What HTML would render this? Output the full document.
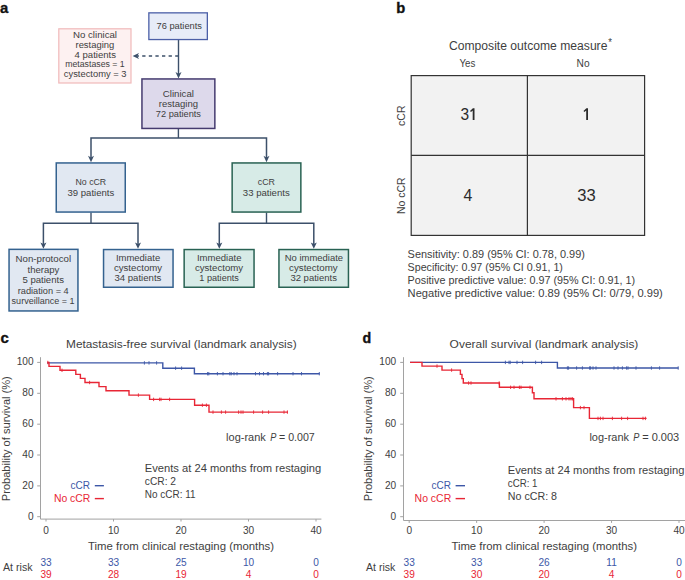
<!DOCTYPE html>
<html><head><meta charset="utf-8"><style>
html,body{margin:0;padding:0;background:#fff;overflow:hidden;width:685px;height:580px;}
svg{display:block;font-family:"Liberation Sans", sans-serif;}
</style></head><body>
<svg width="685" height="580" viewBox="0 0 685 580">
<rect width="685" height="580" fill="#fff"/>
<text x="-0.10" y="12.90" font-size="15" fill="#111" font-weight="bold" textLength="8.27" lengthAdjust="spacingAndGlyphs" stroke="#111" stroke-width="0.35">a</text>
<path d="M178.50,40.00 L178.50,74.00" fill="none" stroke="#3c506a" stroke-width="1.4" />
<path d="M178.50,78.40 L175.50,72.00 L178.50,73.70 L181.50,72.00 Z" fill="#3c506a"/>
<path d="M178.50,56.00 L137.00,56.00" fill="none" stroke="#3c506a" stroke-width="1.4" stroke-dasharray="3.3 3.3"/>
<path d="M132.60,56.00 L139.00,53.00 L137.30,56.00 L139.00,59.00 Z" fill="#3c506a"/>
<path d="M178.40,129.00 L178.40,138.00" fill="none" stroke="#3c506a" stroke-width="1.4" />
<path d="M91.00,159.00 L91.00,138.00 L266.50,138.00 L266.50,159.00" fill="none" stroke="#3c506a" stroke-width="1.5" />
<path d="M91.00,162.20 L88.00,155.80 L91.00,157.50 L94.00,155.80 Z" fill="#3c506a"/>
<path d="M266.50,162.20 L263.50,155.80 L266.50,157.50 L269.50,155.80 Z" fill="#3c506a"/>
<path d="M91.00,212.60 L91.00,223.20" fill="none" stroke="#3c506a" stroke-width="1.4" />
<path d="M43.40,245.00 L43.40,223.20 L138.00,223.20 L138.00,245.00" fill="none" stroke="#3c506a" stroke-width="1.5" />
<path d="M43.40,248.80 L40.40,242.40 L43.40,244.10 L46.40,242.40 Z" fill="#3c506a"/>
<path d="M138.00,248.80 L135.00,242.40 L138.00,244.10 L141.00,242.40 Z" fill="#3c506a"/>
<path d="M266.50,212.60 L266.50,223.20" fill="none" stroke="#3c506a" stroke-width="1.4" />
<path d="M219.30,245.00 L219.30,223.20 L313.80,223.20 L313.80,245.00" fill="none" stroke="#3c506a" stroke-width="1.5" />
<path d="M219.30,248.80 L216.30,242.40 L219.30,244.10 L222.30,242.40 Z" fill="#3c506a"/>
<path d="M313.80,248.80 L310.80,242.40 L313.80,244.10 L316.80,242.40 Z" fill="#3c506a"/>
<rect x="148.85" y="12.85" width="58.50" height="26.70" fill="#e7ecf8" stroke="#4b5fa7" stroke-width="1.3"/>
<text x="156.50" y="29.20" font-size="9.6" fill="#3e3e3e" textLength="45.48" lengthAdjust="spacingAndGlyphs" >76 patients</text>
<rect x="58.80" y="28.80" width="72.20" height="54.20" fill="#fdf1f1" stroke="#f0b9ba" stroke-width="1.2"/>
<text x="73.00" y="38.30" font-size="9.2" fill="#3e3e3e" textLength="44.02" lengthAdjust="spacingAndGlyphs" >No clinical</text>
<text x="75.50" y="47.90" font-size="9.2" fill="#3e3e3e" textLength="38.69" lengthAdjust="spacingAndGlyphs" >restaging</text>
<text x="74.50" y="57.60" font-size="9.2" fill="#3e3e3e" textLength="41.51" lengthAdjust="spacingAndGlyphs" >4 patients</text>
<text x="65.20" y="67.40" font-size="9.2" fill="#3e3e3e" textLength="59.49" lengthAdjust="spacingAndGlyphs" >metastases = 1</text>
<text x="63.80" y="77.20" font-size="9.2" fill="#3e3e3e" textLength="62.72" lengthAdjust="spacingAndGlyphs" >cystectomy = 3</text>
<rect x="141.95" y="78.95" width="72.90" height="49.50" fill="#ddd9eb" stroke="#453b6f" stroke-width="1.5"/>
<text x="162.80" y="96.50" font-size="9.5" fill="#3e3e3e" textLength="31.18" lengthAdjust="spacingAndGlyphs" >Clinical</text>
<text x="158.80" y="106.60" font-size="9.5" fill="#3e3e3e" textLength="39.19" lengthAdjust="spacingAndGlyphs" >restaging</text>
<text x="155.80" y="116.80" font-size="9.5" fill="#3e3e3e" textLength="45.18" lengthAdjust="spacingAndGlyphs" >72 patients</text>
<rect x="56.25" y="162.95" width="69.00" height="49.10" fill="#e1e8f2" stroke="#34628f" stroke-width="1.5"/>
<text x="75.50" y="185.20" font-size="9.3" fill="#3e3e3e" textLength="30.70" lengthAdjust="spacingAndGlyphs" >No cCR</text>
<text x="67.50" y="195.90" font-size="9.3" fill="#3e3e3e" textLength="46.78" lengthAdjust="spacingAndGlyphs" >39 patients</text>
<rect x="232.15" y="162.95" width="68.70" height="49.10" fill="#d7ebe7" stroke="#286253" stroke-width="1.5"/>
<text x="257.80" y="185.20" font-size="9.3" fill="#3e3e3e" textLength="17.19" lengthAdjust="spacingAndGlyphs" >cCR</text>
<text x="242.80" y="195.90" font-size="9.3" fill="#3e3e3e" textLength="46.98" lengthAdjust="spacingAndGlyphs" >33 patients</text>
<rect x="9.05" y="249.35" width="68.90" height="61.60" fill="#e1e8f2" stroke="#34628f" stroke-width="1.5"/>
<text x="15.60" y="262.40" font-size="9.2" fill="#3e3e3e" textLength="55.50" lengthAdjust="spacingAndGlyphs" >Non-protocol</text>
<text x="27.50" y="272.80" font-size="9.2" fill="#3e3e3e" textLength="31.91" lengthAdjust="spacingAndGlyphs" >therapy</text>
<text x="22.40" y="283.20" font-size="9.2" fill="#3e3e3e" textLength="41.61" lengthAdjust="spacingAndGlyphs" >5 patients</text>
<text x="17.70" y="293.60" font-size="9.2" fill="#3e3e3e" textLength="51.02" lengthAdjust="spacingAndGlyphs" >radiation = 4</text>
<text x="11.60" y="304.00" font-size="9.2" fill="#3e3e3e" textLength="63.01" lengthAdjust="spacingAndGlyphs" >surveillance = 1</text>
<rect x="103.55" y="249.55" width="69.50" height="37.70" fill="#e1e8f2" stroke="#34628f" stroke-width="1.5"/>
<text x="115.90" y="260.80" font-size="9.2" fill="#3e3e3e" textLength="44.29" lengthAdjust="spacingAndGlyphs" >Immediate</text>
<text x="113.90" y="271.00" font-size="9.2" fill="#3e3e3e" textLength="48.21" lengthAdjust="spacingAndGlyphs" >cystectomy</text>
<text x="114.40" y="281.30" font-size="9.2" fill="#3e3e3e" textLength="46.98" lengthAdjust="spacingAndGlyphs" >34 patients</text>
<rect x="184.15" y="249.55" width="69.90" height="37.70" fill="#d7ebe7" stroke="#286253" stroke-width="1.5"/>
<text x="196.90" y="260.80" font-size="9.2" fill="#3e3e3e" textLength="44.59" lengthAdjust="spacingAndGlyphs" >Immediate</text>
<text x="194.90" y="271.00" font-size="9.2" fill="#3e3e3e" textLength="48.21" lengthAdjust="spacingAndGlyphs" >cystectomy</text>
<text x="199.30" y="281.30" font-size="9.2" fill="#3e3e3e" textLength="39.61" lengthAdjust="spacingAndGlyphs" >1 patients</text>
<rect x="278.95" y="249.55" width="69.50" height="37.70" fill="#d7ebe7" stroke="#286253" stroke-width="1.5"/>
<text x="284.70" y="260.80" font-size="9.2" fill="#3e3e3e" textLength="58.39" lengthAdjust="spacingAndGlyphs" >No immediate</text>
<text x="289.10" y="271.00" font-size="9.2" fill="#3e3e3e" textLength="48.51" lengthAdjust="spacingAndGlyphs" >cystectomy</text>
<text x="290.40" y="281.30" font-size="9.2" fill="#3e3e3e" textLength="46.58" lengthAdjust="spacingAndGlyphs" >32 patients</text>
<text x="396.20" y="12.80" font-size="15" fill="#111" font-weight="bold" textLength="9.01" lengthAdjust="spacingAndGlyphs" stroke="#111" stroke-width="0.35">b</text>
<text x="449.00" y="49.90" font-size="12" fill="#3e3e3e" textLength="158.42" lengthAdjust="spacingAndGlyphs" >Composite outcome measure</text>
<text x="608.20" y="46.00" font-size="10" fill="#3e3e3e" textLength="3.69" lengthAdjust="spacingAndGlyphs" >*</text>
<text x="459.40" y="67.40" font-size="10.8" fill="#3e3e3e" textLength="15.91" lengthAdjust="spacingAndGlyphs" >Yes</text>
<text x="576.60" y="67.40" font-size="10.8" fill="#3e3e3e" textLength="12.98" lengthAdjust="spacingAndGlyphs" >No</text>
<rect x="411.2" y="75.6" width="233.4" height="159.8" fill="#f2f2f2" stroke="#333" stroke-width="1.2"/>
<path d="M527.40,75.60 L527.40,235.40" fill="none" stroke="#333" stroke-width="1.2" />
<path d="M411.20,155.40 L644.60,155.40" fill="none" stroke="#333" stroke-width="1.2" />
<text x="460.50" y="119.70" font-size="17.3" fill="#2b2b2b" textLength="8.62" lengthAdjust="spacingAndGlyphs" >3</text>
<path d="M588.00,108.20 L588.00,119.90 L586.20,119.90 L586.20,110.50 L584.50,112.10 L583.50,110.90 L586.40,108.20 Z" fill="#2b2b2b"/>
<path d="M474.50,108.20 L474.50,119.90 L472.70,119.90 L472.70,110.50 L471.00,112.10 L470.00,110.90 L472.90,108.20 Z" fill="#2b2b2b"/>
<text x="463.60" y="200.90" font-size="17.3" fill="#2b2b2b" textLength="8.82" lengthAdjust="spacingAndGlyphs" >4</text>
<text x="577.20" y="200.80" font-size="17.3" fill="#2b2b2b" textLength="18.44" lengthAdjust="spacingAndGlyphs" >33</text>
<g transform="translate(405.2,115.7) rotate(-90)">
<text x="-10.20" y="0.00" font-size="10.5" fill="#3e3e3e" textLength="20.39" lengthAdjust="spacingAndGlyphs" >cCR</text>
</g>
<g transform="translate(405.2,195.7) rotate(-90)">
<text x="-18.30" y="0.00" font-size="10.5" fill="#3e3e3e" textLength="36.61" lengthAdjust="spacingAndGlyphs" >No cCR</text>
</g>
<text x="407.60" y="258.20" font-size="10.6" fill="#3e3e3e" textLength="177.31" lengthAdjust="spacingAndGlyphs" >Sensitivity: 0.89 (95% CI: 0.78, 0.99)</text>
<text x="407.60" y="271.20" font-size="10.6" fill="#3e3e3e" textLength="155.28" lengthAdjust="spacingAndGlyphs" >Specificity: 0.97 (95% CI 0.91, 1)</text>
<text x="407.60" y="284.10" font-size="10.6" fill="#3e3e3e" textLength="227.42" lengthAdjust="spacingAndGlyphs" >Positive predictive value: 0.97 (95% CI: 0.91, 1)</text>
<text x="407.60" y="297.00" font-size="10.6" fill="#3e3e3e" textLength="255.22" lengthAdjust="spacingAndGlyphs" >Negative predictive value: 0.89 (95% CI: 0/79, 0.99)</text>
<text x="0.60" y="343.10" font-size="15" fill="#111" font-weight="bold" textLength="8.32" lengthAdjust="spacingAndGlyphs" stroke="#111" stroke-width="0.35">c</text>
<text x="66.00" y="348.00" font-size="11.6" fill="#3e3e3e" textLength="230.61" lengthAdjust="spacingAndGlyphs" >Metastasis-free survival (landmark analysis)</text>
<path d="M40.50,357.20 L40.50,519.10 L321.40,519.10" fill="none" stroke="#a2a2a2" stroke-width="1.0" />
<path d="M37.20,362.40 H40.50 M37.20,393.30 H40.50 M37.20,424.20 H40.50 M37.20,455.00 H40.50 M37.20,485.90 H40.50 M37.20,516.70 H40.50 M46.00,519.10 V521.50 M113.50,519.10 V521.50 M181.00,519.10 V521.50 M248.50,519.10 V521.50 M316.00,519.10 V521.50 " stroke="#a2a2a2" stroke-width="1.0" fill="none"/>
<text x="33.60" y="365.20" font-size="10.1" fill="#3e3e3e" text-anchor="end">100</text>
<text x="33.60" y="396.10" font-size="10.1" fill="#3e3e3e" text-anchor="end">80</text>
<text x="33.60" y="427.00" font-size="10.1" fill="#3e3e3e" text-anchor="end">60</text>
<text x="33.60" y="457.80" font-size="10.1" fill="#3e3e3e" text-anchor="end">40</text>
<text x="33.60" y="488.70" font-size="10.1" fill="#3e3e3e" text-anchor="end">20</text>
<text x="33.60" y="519.50" font-size="10.1" fill="#3e3e3e" text-anchor="end">0</text>
<text x="46.00" y="533.6" font-size="10.1" fill="#3e3e3e" text-anchor="middle">0</text>
<text x="113.50" y="533.6" font-size="10.1" fill="#3e3e3e" text-anchor="middle">10</text>
<text x="181.00" y="533.6" font-size="10.1" fill="#3e3e3e" text-anchor="middle">20</text>
<text x="248.50" y="533.6" font-size="10.1" fill="#3e3e3e" text-anchor="middle">30</text>
<text x="316.00" y="533.6" font-size="10.1" fill="#3e3e3e" text-anchor="middle">40</text>
<g transform="translate(9.8,438.7) rotate(-90)">
<text x="-62.50" y="0.00" font-size="10.6" fill="#3e3e3e" textLength="125.02" lengthAdjust="spacingAndGlyphs" >Probability of survival (%)</text>
</g>
<path d="M47.00,362.90 L162.80,362.90 L162.80,368.20 L194.40,368.20 L194.40,373.70 L319.60,373.70" fill="none" stroke="#3d57a7" stroke-width="1.4" stroke-linejoin="miter"/>
<path d="M144.40,361.20 V364.60 M149.00,361.20 V364.60 M156.60,361.20 V364.60 M175.60,366.50 V369.90 M181.60,366.50 V369.90 M207.60,372.00 V375.40 M208.80,372.00 V375.40 M217.40,372.00 V375.40 M223.00,372.00 V375.40 M229.80,372.00 V375.40 M231.20,372.00 V375.40 M234.00,372.00 V375.40 M237.00,372.00 V375.40 M255.50,372.00 V375.40 M259.50,372.00 V375.40 M263.50,372.00 V375.40 M267.40,372.00 V375.40 M268.60,372.00 V375.40 M277.60,372.00 V375.40 M293.00,372.00 V375.40 M301.50,372.00 V375.40 M319.30,372.00 V375.40 " stroke="#3d57a7" stroke-width="0.9" fill="none"/>
<path d="M47.60,362.50 L49.00,362.50 L49.00,366.40 L60.00,366.40 L60.00,370.30 L75.80,370.30 L75.80,374.40 L80.40,374.40 L80.40,378.40 L85.00,378.40 L85.00,382.50 L99.00,382.50 L99.00,386.60 L106.00,386.60 L106.00,390.80 L129.00,390.80 L129.00,395.10 L149.60,395.10 L149.60,399.40 L194.60,399.40 L194.60,405.20 L209.00,405.20 L209.00,412.10 L288.00,412.10" fill="none" stroke="#e82635" stroke-width="1.4" stroke-linejoin="miter"/>
<path d="M47.80,360.80 V364.20 M62.00,368.60 V372.00 M89.60,380.80 V384.20 M138.40,393.40 V396.80 M153.60,397.70 V401.10 M159.60,397.70 V401.10 M161.00,397.70 V401.10 M169.60,397.70 V401.10 M202.40,403.50 V406.90 M206.40,403.50 V406.90 M213.00,410.40 V413.80 M221.40,410.40 V413.80 M225.60,410.40 V413.80 M238.60,410.40 V413.80 M241.00,410.40 V413.80 M243.00,410.40 V413.80 M253.60,410.40 V413.80 M262.60,410.40 V413.80 M268.60,410.40 V413.80 M284.00,410.40 V413.80 M287.40,410.40 V413.80 " stroke="#e82635" stroke-width="0.9" fill="none"/>
<text x="226.10" y="441.30" font-size="10.6" fill="#3e3e3e" textLength="39.62" lengthAdjust="spacingAndGlyphs" >log-rank</text>
<text x="270.20" y="441.30" font-size="10.6" fill="#3e3e3e" font-style="italic" textLength="6.12" lengthAdjust="spacingAndGlyphs" >P</text>
<text x="279.00" y="441.30" font-size="10.6" fill="#3e3e3e" textLength="35.69" lengthAdjust="spacingAndGlyphs" >= 0.007</text>
<text x="144.80" y="471.50" font-size="10.6" fill="#3e3e3e" textLength="176.41" lengthAdjust="spacingAndGlyphs" >Events at 24 months from restaging</text>
<text x="144.80" y="484.70" font-size="10.6" fill="#3e3e3e" textLength="31.21" lengthAdjust="spacingAndGlyphs" >cCR: 2</text>
<text x="144.80" y="497.50" font-size="10.6" fill="#3e3e3e" textLength="50.69" lengthAdjust="spacingAndGlyphs" >No cCR: 11</text>
<text x="70.60" y="489.00" font-size="10.2" fill="#3d57a7" textLength="19.49" lengthAdjust="spacingAndGlyphs" >cCR</text>
<text x="53.90" y="501.50" font-size="10.2" fill="#e82635" textLength="36.41" lengthAdjust="spacingAndGlyphs" >No cCR</text>
<path d="M94.80,485.70 L103.90,485.70" fill="none" stroke="#3d57a7" stroke-width="1.4" />
<path d="M94.80,498.60 L103.90,498.60" fill="none" stroke="#e82635" stroke-width="1.4" />
<text x="88.00" y="550.00" font-size="10.6" fill="#3e3e3e" textLength="186.02" lengthAdjust="spacingAndGlyphs" >Time from clinical restaging (months)</text>
<text x="3.00" y="571.00" font-size="10.6" fill="#3e3e3e" textLength="29.52" lengthAdjust="spacingAndGlyphs" >At risk</text>
<text x="46.00" y="565.8" font-size="10.1" fill="#3d57a7" text-anchor="middle">33</text>
<text x="113.50" y="565.8" font-size="10.1" fill="#3d57a7" text-anchor="middle">33</text>
<text x="181.00" y="565.8" font-size="10.1" fill="#3d57a7" text-anchor="middle">25</text>
<text x="248.50" y="565.8" font-size="10.1" fill="#3d57a7" text-anchor="middle">10</text>
<text x="316.00" y="565.8" font-size="10.1" fill="#3d57a7" text-anchor="middle">0</text>
<text x="46.00" y="577.8" font-size="10.1" fill="#e82635" text-anchor="middle">39</text>
<text x="113.50" y="577.8" font-size="10.1" fill="#e82635" text-anchor="middle">28</text>
<text x="181.00" y="577.8" font-size="10.1" fill="#e82635" text-anchor="middle">19</text>
<text x="248.50" y="577.8" font-size="10.1" fill="#e82635" text-anchor="middle">4</text>
<text x="316.00" y="577.8" font-size="10.1" fill="#e82635" text-anchor="middle">0</text>
<text x="362.60" y="342.70" font-size="15" fill="#111" font-weight="bold" textLength="8.71" lengthAdjust="spacingAndGlyphs" stroke="#111" stroke-width="0.35">d</text>
<text x="449.60" y="348.00" font-size="11.6" fill="#3e3e3e" textLength="188.77" lengthAdjust="spacingAndGlyphs" >Overall survival (landmark analysis)</text>
<path d="M403.50,357.20 L403.50,520.50 L685.00,520.50" fill="none" stroke="#a2a2a2" stroke-width="1.0" />
<path d="M400.20,362.40 H403.50 M400.20,393.30 H403.50 M400.20,424.20 H403.50 M400.20,455.00 H403.50 M400.20,485.90 H403.50 M400.20,516.70 H403.50 M409.20,520.50 V522.90 M476.65,520.50 V522.90 M544.10,520.50 V522.90 M611.55,520.50 V522.90 M679.00,520.50 V522.90 " stroke="#a2a2a2" stroke-width="1.0" fill="none"/>
<text x="396.20" y="365.20" font-size="10.1" fill="#3e3e3e" text-anchor="end">100</text>
<text x="396.20" y="396.10" font-size="10.1" fill="#3e3e3e" text-anchor="end">80</text>
<text x="396.20" y="427.00" font-size="10.1" fill="#3e3e3e" text-anchor="end">60</text>
<text x="396.20" y="457.80" font-size="10.1" fill="#3e3e3e" text-anchor="end">40</text>
<text x="396.20" y="488.70" font-size="10.1" fill="#3e3e3e" text-anchor="end">20</text>
<text x="396.20" y="519.50" font-size="10.1" fill="#3e3e3e" text-anchor="end">0</text>
<text x="409.20" y="533.6" font-size="10.1" fill="#3e3e3e" text-anchor="middle">0</text>
<text x="476.65" y="533.6" font-size="10.1" fill="#3e3e3e" text-anchor="middle">10</text>
<text x="544.10" y="533.6" font-size="10.1" fill="#3e3e3e" text-anchor="middle">20</text>
<text x="611.55" y="533.6" font-size="10.1" fill="#3e3e3e" text-anchor="middle">30</text>
<text x="679.00" y="533.6" font-size="10.1" fill="#3e3e3e" text-anchor="middle">40</text>
<g transform="translate(372.4,438.7) rotate(-90)">
<text x="-62.50" y="0.00" font-size="10.6" fill="#3e3e3e" textLength="125.02" lengthAdjust="spacingAndGlyphs" >Probability of survival (%)</text>
</g>
<path d="M410.00,362.40 L557.40,362.40 L557.40,368.00 L678.40,368.00" fill="none" stroke="#3d57a7" stroke-width="1.4" stroke-linejoin="miter"/>
<path d="M505.40,360.70 V364.10 M509.00,360.70 V364.10 M510.20,360.70 V364.10 M517.00,360.70 V364.10 M522.60,360.70 V364.10 M535.60,360.70 V364.10 M541.60,360.70 V364.10 M567.40,366.30 V369.70 M568.60,366.30 V369.70 M576.60,366.30 V369.70 M582.40,366.30 V369.70 M589.60,366.30 V369.70 M590.60,366.30 V369.70 M593.00,366.30 V369.70 M596.00,366.30 V369.70 M614.00,366.30 V369.70 M618.00,366.30 V369.70 M622.40,366.30 V369.70 M626.60,366.30 V369.70 M628.00,366.30 V369.70 M636.00,366.30 V369.70 M651.40,366.30 V369.70 M659.60,366.30 V369.70 M678.20,366.30 V369.70 " stroke="#3d57a7" stroke-width="0.9" fill="none"/>
<path d="M410.00,362.40 L422.00,362.40 L422.00,366.10 L442.00,366.10 L442.00,370.10 L460.40,370.10 L460.40,374.40 L462.00,374.40 L462.00,378.60 L463.30,378.60 L463.30,383.00 L499.40,383.00 L499.40,387.30 L532.40,387.30 L532.40,392.80 L534.00,392.80 L534.00,398.80 L573.60,398.80 L573.60,407.60 L589.40,407.60 L589.40,418.40 L646.60,418.40" fill="none" stroke="#e82635" stroke-width="1.4" stroke-linejoin="miter"/>
<path d="M437.00,364.40 V367.80 M451.60,368.40 V371.80 M468.60,381.30 V384.70 M471.00,381.30 V384.70 M499.20,381.30 V384.70 M510.60,385.60 V389.00 M514.00,385.60 V389.00 M519.40,385.60 V389.00 M521.00,385.60 V389.00 M530.00,385.60 V389.00 M556.00,397.10 V400.50 M562.40,397.10 V400.50 M566.00,397.10 V400.50 M569.00,397.10 V400.50 M571.00,397.10 V400.50 M572.60,397.10 V400.50 M580.40,405.90 V409.30 M584.00,405.90 V409.30 M598.00,416.70 V420.10 M600.40,416.70 V420.10 M603.00,416.70 V420.10 M612.40,416.70 V420.10 M621.60,416.70 V420.10 M627.60,416.70 V420.10 M643.00,416.70 V420.10 M645.40,416.70 V420.10 " stroke="#e82635" stroke-width="0.9" fill="none"/>
<text x="589.40" y="441.30" font-size="10.6" fill="#3e3e3e" textLength="39.62" lengthAdjust="spacingAndGlyphs" >log-rank</text>
<text x="633.20" y="441.30" font-size="10.6" fill="#3e3e3e" font-style="italic" textLength="6.12" lengthAdjust="spacingAndGlyphs" >P</text>
<text x="642.20" y="441.30" font-size="10.6" fill="#3e3e3e" textLength="36.99" lengthAdjust="spacingAndGlyphs" >= 0.003</text>
<text x="507.80" y="474.00" font-size="10.6" fill="#3e3e3e" textLength="176.61" lengthAdjust="spacingAndGlyphs" >Events at 24 months from restaging</text>
<text x="507.80" y="487.00" font-size="10.6" fill="#3e3e3e" textLength="29.71" lengthAdjust="spacingAndGlyphs" >cCR: 1</text>
<text x="507.80" y="499.50" font-size="10.6" fill="#3e3e3e" textLength="49.23" lengthAdjust="spacingAndGlyphs" >No cCR: 8</text>
<text x="431.60" y="489.00" font-size="10.2" fill="#3d57a7" textLength="19.39" lengthAdjust="spacingAndGlyphs" >cCR</text>
<text x="414.60" y="501.50" font-size="10.2" fill="#e82635" textLength="36.61" lengthAdjust="spacingAndGlyphs" >No cCR</text>
<path d="M455.60,485.70 L465.00,485.70" fill="none" stroke="#3d57a7" stroke-width="1.4" />
<path d="M455.60,498.60 L465.00,498.60" fill="none" stroke="#e82635" stroke-width="1.4" />
<text x="451.40" y="550.00" font-size="10.6" fill="#3e3e3e" textLength="185.62" lengthAdjust="spacingAndGlyphs" >Time from clinical restaging (months)</text>
<text x="366.00" y="571.00" font-size="10.6" fill="#3e3e3e" textLength="29.32" lengthAdjust="spacingAndGlyphs" >At risk</text>
<text x="409.20" y="565.8" font-size="10.1" fill="#3d57a7" text-anchor="middle">33</text>
<text x="476.65" y="565.8" font-size="10.1" fill="#3d57a7" text-anchor="middle">33</text>
<text x="544.10" y="565.8" font-size="10.1" fill="#3d57a7" text-anchor="middle">26</text>
<text x="611.55" y="565.8" font-size="10.1" fill="#3d57a7" text-anchor="middle">11</text>
<text x="679.00" y="565.8" font-size="10.1" fill="#3d57a7" text-anchor="middle">0</text>
<text x="409.20" y="577.8" font-size="10.1" fill="#e82635" text-anchor="middle">39</text>
<text x="476.65" y="577.8" font-size="10.1" fill="#e82635" text-anchor="middle">30</text>
<text x="544.10" y="577.8" font-size="10.1" fill="#e82635" text-anchor="middle">20</text>
<text x="611.55" y="577.8" font-size="10.1" fill="#e82635" text-anchor="middle">4</text>
<text x="679.00" y="577.8" font-size="10.1" fill="#e82635" text-anchor="middle">0</text>
</svg>
</body></html>
